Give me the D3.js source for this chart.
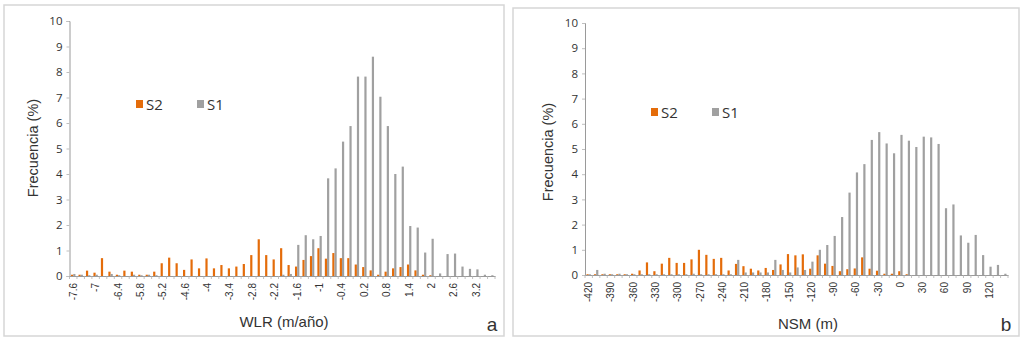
<!DOCTYPE html>
<html><head><meta charset="utf-8">
<script src="https://cdn.jsdelivr.net/npm/d3@7"></script>
<style>
html,body{margin:0;padding:0;background:#fff;}
svg{display:block;}
</style></head>
<body>
<svg id="chart" width="1023" height="341"></svg>
<script>
// ---------- DATA ----------
const wlrCategories = ["-7.6","-7.4","-7.2","-7","-6.8","-6.6","-6.4","-6.2","-6","-5.8","-5.6","-5.4","-5.2","-5","-4.8","-4.6","-4.4","-4.2","-4","-3.8","-3.6","-3.4","-3.2","-3","-2.8","-2.6","-2.4","-2.2","-2","-1.8","-1.6","-1.4","-1.2","-1","-0.8","-0.6","-0.4","-0.2","0","0.2","0.4","0.6","0.8","1","1.2","1.4","1.6","1.8","2","2.2","2.4","2.6","2.8","3","3.2","3.4","3.6"];
const wlrS2 = [0.05,0.05,0.21,0.13,0.7,0.17,0.05,0.21,0.17,0.05,0.05,0.17,0.5,0.72,0.5,0.24,0.65,0.3,0.69,0.3,0.43,0.3,0.37,0.47,0.82,1.44,0.82,0.65,1.09,0.43,0.37,0.63,0.78,1.09,0.68,0.9,0.7,0.7,0.45,0.35,0.22,0.05,0.17,0.3,0.35,0.45,0.22,0.05,0.03,0,0,0,0,0,0,0,0];
const wlrS1 = [0.08,0.05,0.03,0.05,0,0.08,0.03,0,0.05,0.03,0.05,0.03,0,0,0,0,0,0,0,0,0,0,0,0,0,0,0,0,0.05,0.08,1.22,1.6,1.44,1.57,3.83,4.22,5.27,5.88,7.82,7.82,8.6,7.03,5.88,4.0,4.29,1.96,1.9,0.92,1.46,0.1,0.86,0.88,0.37,0.28,0.26,0.05,0.03];
const wlrTickLabels = ["-7.6","-7","-6.4","-5.8","-5.2","-4.6","-4","-3.4","-2.8","-2.2","-1.6","-1","-0.4","0.2","0.8","1.4","2","2.6","3.2"];

const nsmCategories = ["-420","-410","-400","-390","-380","-370","-360","-350","-340","-330","-320","-310","-300","-290","-280","-270","-260","-250","-240","-230","-220","-210","-200","-190","-180","-170","-160","-150","-140","-130","-120","-110","-100","-90","-80","-70","-60","-50","-40","-30","-20","-10","0","10","20","30","40","50","60","70","80","90","100","110","120","130","140"];
const nsmS2 = [0.03,0.03,0.03,0.03,0.03,0.03,0.05,0.18,0.5,0.15,0.45,0.68,0.48,0.48,0.62,1.0,0.8,0.64,0.68,0.18,0.44,0.35,0.25,0.18,0.28,0.2,0.42,0.83,0.78,0.82,0.25,0.78,0.45,0.36,0.15,0.23,0.26,0.7,0.25,0.17,0.05,0.05,0.15,0.03,0,0,0,0,0,0,0,0,0,0,0,0,0];
const nsmS1 = [0.03,0.2,0.05,0.03,0.05,0.03,0.03,0.03,0.03,0.03,0.03,0.03,0.03,0.03,0.05,0.03,0.03,0.03,0.03,0.03,0.6,0.1,0.1,0.1,0.1,0.6,0.2,0.1,0.3,0.2,0.53,1.0,1.19,1.55,2.3,3.27,4.07,4.4,5.36,5.67,5.22,4.83,5.56,5.33,5.08,5.49,5.46,5.2,2.65,2.8,1.57,1.28,1.59,0.79,0.33,0.4,0.05];
const nsmTickLabels = ["-420","-390","-360","-330","-300","-270","-240","-210","-180","-150","-120","-90","-60","-30","0","30","60","90","120"];

const yTicks = [0,1,2,3,4,5,6,7,8,9,10];
const seriesNames = ["S2","S1"];
const colors = {S2:"#E46C0A", S1:"#A0A0A0"};

// ---------- DRAW ----------
const svg = d3.select("#chart");

function panel(opt){
  const g = svg.append("g");
  g.append("rect").attr("x",opt.frame[0]).attr("y",opt.frame[1])
    .attr("width",opt.frame[2]).attr("height",opt.frame[3])
    .attr("fill","none").attr("stroke","#d6d6d6").attr("stroke-width",1.5);

  const x = d3.scaleBand().domain(opt.cats).range([opt.x0,opt.x1]).padding(0);
  const half = x.bandwidth()/2;
  const xs = d3.scaleBand().domain(seriesNames).range([half-2.2, half+2.2]).padding(0);
  const y = d3.scaleLinear().domain([0,10]).range([opt.yb,opt.yt]);

  const ya = g.append("g").attr("transform",`translate(${opt.x0},0)`)
    .call(d3.axisLeft(y).tickValues(yTicks).tickSize(3).tickPadding(4).tickFormat(d3.format("d")));
  ya.select(".domain").attr("stroke","#9a9a9a");
  ya.selectAll(".tick line").attr("stroke","#bfbfbf");
  ya.selectAll("text").attr("font-family","Open Sans, Noto Sans, sans-serif").attr("font-size",11.5).attr("fill","#333");

  const rows = opt.cats.map((c,i)=>({c, S2:opt.s2[i], S1:opt.s1[i]}));
  const bw = xs.bandwidth();
  seriesNames.forEach(s=>{
    g.append("g").selectAll("rect").data(rows).join("rect")
      .attr("x",d=>x(d.c)+xs(s))
      .attr("width",bw)
      .attr("y",d=>y(d[s]))
      .attr("height",d=>y(0)-y(d[s]))
      .attr("fill",colors[s]);
  });

  const xa = g.append("g").attr("transform",`translate(0,${opt.yb})`)
    .call(d3.axisBottom(x).tickValues(opt.cats).tickSize(0).tickFormat(""));
  xa.select(".domain").attr("stroke","#9a9a9a");
  g.append("g").selectAll("line").data(opt.cats.concat(["__end"])).join("line")
    .attr("x1",(d,i)=>opt.x0+i*x.step()).attr("x2",(d,i)=>opt.x0+i*x.step())
    .attr("y1",opt.yb).attr("y2",opt.yb+3).attr("stroke","#b0b0b0").attr("stroke-width",0.8);
  g.append("g").selectAll("text").data(opt.ticks).join("text")
    .attr("transform",d=>`translate(${x(d)+x.bandwidth()/2+3.5},${opt.yb+7}) rotate(-90)`)
    .attr("text-anchor","end")
    .attr("font-family","Liberation Sans, Arial, sans-serif").attr("font-size",10).attr("fill","#333")
    .text(d=>d);

  g.append("text").attr("transform",`translate(${opt.ytx},${opt.yty}) rotate(-90)`)
    .attr("text-anchor","middle").attr("font-family","Liberation Sans, Arial, sans-serif")
    .attr("font-size",14.5).attr("fill","#333").text("Frecuencia (%)");
  g.append("text").attr("x",opt.xtx).attr("y",opt.xty).attr("text-anchor","middle")
    .attr("font-family","Liberation Sans, Arial, sans-serif").attr("font-size",15).attr("fill","#333").text(opt.xtitle);
  g.append("text").attr("x",opt.lx).attr("y",opt.ly).attr("text-anchor","middle")
    .attr("font-family","Liberation Sans, Arial, sans-serif").attr("font-size",19).attr("fill","#333").text(opt.letter);

  const lg = g.append("g").attr("transform",`translate(${opt.legX},${opt.legY})`);
  const lx = d3.scalePoint().domain(seriesNames).range([0,61]);
  seriesNames.forEach(s=>{
    lg.append("rect").attr("x",lx(s)).attr("y",-4).attr("width",7).attr("height",8).attr("fill",colors[s]);
    lg.append("text").attr("x",lx(s)+10).attr("y",5.5).attr("font-family","Open Sans, Noto Sans, sans-serif")
      .attr("font-size",15).attr("fill","#333").text(s);
  });
}

panel({cats:wlrCategories, s2:wlrS2, s1:wlrS1, ticks:wlrTickLabels,
  x0:69.5, x1:495, yb:276, yt:21, frame:[4,5,500,331],
  ytx:38, yty:148, xtx:284, xty:327, xtitle:"WLR (m/año)", lx:492, ly:331, letter:"a",
  legX:136, legY:104});

panel({cats:nsmCategories, s2:nsmS2, s1:nsmS1, ticks:nsmTickLabels,
  x0:585, x1:1008, yb:275, yt:23, frame:[513,8,506,328],
  ytx:553, yty:152, xtx:808, xty:329, xtitle:"NSM (m)", lx:1006, ly:331, letter:"b",
  legX:651, legY:112});
</script>
</body></html>
